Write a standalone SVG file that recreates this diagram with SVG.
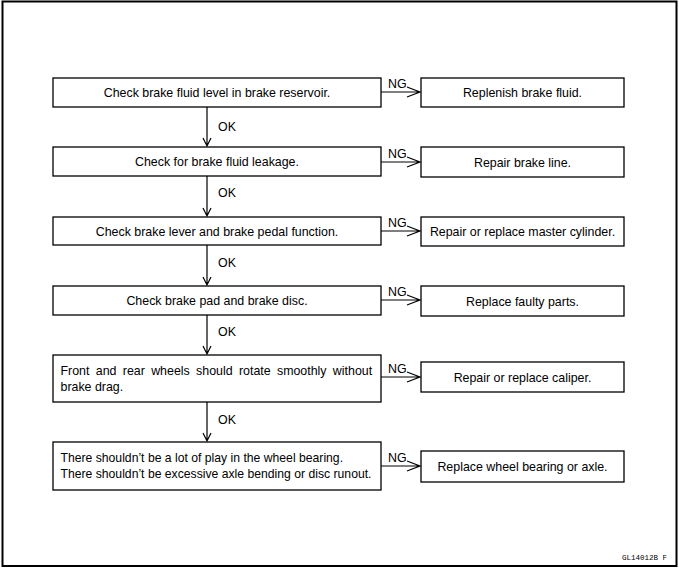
<svg xmlns="http://www.w3.org/2000/svg" width="679" height="573" viewBox="0 0 679 573">
<style>
.box{fill:#fff;stroke:#000;stroke-width:1.3}
.t{font-family:"Liberation Sans",Arial,sans-serif;font-size:12.4px;fill:#000}
.c{text-anchor:middle}
.ln{fill:none;stroke:#000;stroke-width:1.2}
.ft{font-family:"Liberation Mono",monospace;font-size:8px;fill:#000}
</style>
<rect x="0" y="0" width="679" height="573" fill="#fff"/>
<rect x="2.5" y="1.5" width="674" height="564.5" fill="none" stroke="#000" stroke-width="2"/>

<g id="n1"><rect class="box" x="53" y="78" width="328" height="29"/><text class="t c" x="217" y="97">Check brake fluid level in brake reservoir.</text></g>
<g id="n2"><rect class="box" x="53" y="147" width="328" height="29"/><text class="t c" x="217" y="166">Check for brake fluid leakage.</text></g>
<g id="n3"><rect class="box" x="53" y="217" width="328" height="28"/><text class="t c" x="217" y="235.5">Check brake lever and brake pedal function.</text></g>
<g id="n4"><rect class="box" x="53" y="286" width="328" height="29"/><text class="t c" x="217" y="305">Check brake pad and brake disc.</text></g>
<g id="n5"><rect class="box" x="53" y="355" width="328" height="47"/><text class="t" x="60.5" y="375" word-spacing="2.9">Front and rear wheels should rotate smoothly without</text><text class="t" x="60.5" y="391">brake drag.</text></g>
<g id="n6"><rect class="box" x="53" y="442" width="328" height="48"/><text class="t" x="60.5" y="462" style="font-size:12.2px">There shouldn’t be a lot of play in the wheel bearing.</text><text class="t" x="60.5" y="478" style="font-size:12.2px">There shouldn’t be excessive axle bending or disc runout.</text></g>

<g id="r1"><rect class="box" x="421" y="78" width="203" height="29"/><text class="t c" x="522.5" y="97">Replenish brake fluid.</text></g>
<g id="r2"><rect class="box" x="421" y="147" width="203" height="30"/><text class="t c" x="522.5" y="166.5">Repair brake line.</text></g>
<g id="r3"><rect class="box" x="421" y="217" width="203" height="29"/><text class="t c" x="522.5" y="236">Repair or replace master cylinder.</text></g>
<g id="r4"><rect class="box" x="421" y="286" width="203" height="30"/><text class="t c" x="522.5" y="305.5">Replace faulty parts.</text></g>
<g id="r5"><rect class="box" x="421" y="362" width="203" height="30"/><text class="t c" x="522.5" y="381.5">Repair or replace caliper.</text></g>
<g id="r6"><rect class="box" x="421" y="451" width="203" height="31"/><text class="t c" x="522.5" y="471">Replace wheel bearing or axle.</text></g>

<g id="connectors">
<path class="ln" d="M207 107V146M203 138L207 146L211 138"/>
<path class="ln" d="M207 176V216M203 208L207 216L211 208"/>
<path class="ln" d="M207 245V285M203 277L207 285L211 277"/>
<path class="ln" d="M207 315V354M203 346L207 354L211 346"/>
<path class="ln" d="M207 402V441M203 433L207 441L211 433"/>
<text class="t" x="218" y="131">OK</text>
<text class="t" x="218" y="197">OK</text>
<text class="t" x="218" y="267">OK</text>
<text class="t" x="218" y="336">OK</text>
<text class="t" x="218" y="424">OK</text>

<path class="ln" d="M381 92H420M407 87L420 92L407 97"/>
<path class="ln" d="M381 162H420M407 157L420 162L407 167"/>
<path class="ln" d="M381 231H420M407 226L420 231L407 236"/>
<path class="ln" d="M381 300H420M407 295L420 300L407 305"/>
<path class="ln" d="M381 377H420M407 372L420 377L407 382"/>
<path class="ln" d="M381 466H420M407 461L420 466L407 471"/>
<text class="t" x="388" y="88">NG</text>
<text class="t" x="388" y="158">NG</text>
<text class="t" x="388" y="227">NG</text>
<text class="t" x="388" y="296">NG</text>
<text class="t" x="388" y="373">NG</text>
<text class="t" x="388" y="462">NG</text>
</g>
<text class="ft" x="622" y="560" textLength="45" lengthAdjust="spacingAndGlyphs">GL14012B  F</text>
</svg>
